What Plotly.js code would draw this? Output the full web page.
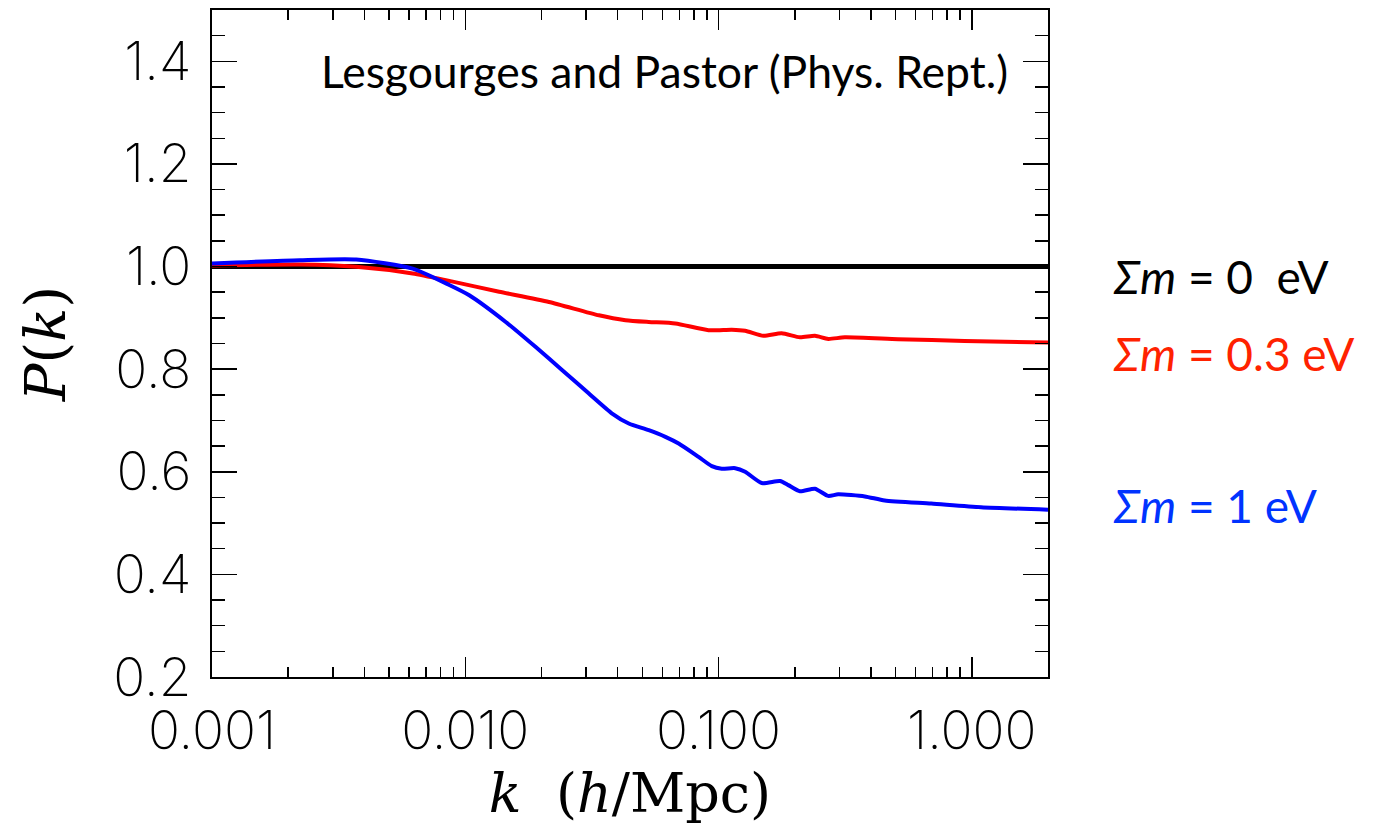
<!DOCTYPE html>
<html>
<head>
<meta charset="utf-8">
<script src="https://cdn.plot.ly/plotly-3.0.1.min.js"></script>
<style>html,body{margin:0;padding:0;background:#fff;}#chart{width:1379px;height:825px;}</style>
</head>
<body>
<div id="chart"></div>
<script>
// k values (h/Mpc)
const kMassless = [0.001, 2.0];
const pMassless = [1.0, 1.0];

const kRed = [0.001, 0.00222, 0.00371, 0.0062, 0.00865, 0.01361, 0.02141, 0.0337, 0.04292, 0.05302, 0.0675, 0.0913, 0.1128, 0.1274, 0.1504, 0.1775, 0.2097, 0.2402, 0.2711, 0.3153, 0.5113, 0.9361, 2.0];
const pRed = [1.002, 1.004, 0.9995, 0.9865, 0.972, 0.951, 0.931, 0.905, 0.8955, 0.892, 0.889, 0.876, 0.877, 0.875, 0.865, 0.870, 0.862, 0.865, 0.859, 0.862, 0.8585, 0.855, 0.852];

const kBlue = [0.001, 0.00222, 0.00371, 0.0062, 0.00865, 0.01037, 0.01445, 0.01898, 0.02416, 0.03078, 0.03802, 0.04423, 0.05302, 0.0617, 0.0696, 0.0834, 0.0941, 0.1030, 0.1164, 0.1274, 0.1481, 0.1750, 0.1886, 0.2097, 0.2402, 0.2711, 0.2968, 0.3781, 0.4532, 0.6916, 1.088, 2.0];
const pBlue = [1.006, 1.0125, 1.0138, 0.996, 0.964, 0.944, 0.892, 0.843, 0.798, 0.7525, 0.7135, 0.694, 0.681, 0.668, 0.655, 0.629, 0.611, 0.606, 0.607, 0.600, 0.578, 0.582, 0.574, 0.562, 0.567, 0.553, 0.556, 0.552, 0.544, 0.538, 0.531, 0.526];

const xTickVals = [0.001, 0.01, 0.1, 1];
const xTickText = ['0.001', '0.010', '0.100', '1.000'];
const yTickVals = [0.2, 0.4, 0.6, 0.8, 1.0, 1.2, 1.4];
const yTickText = ['0.2', '0.4', '0.6', '0.8', '1.0', '1.2', '1.4'];
const minorMultipliers = [2, 3, 4, 5, 6, 7, 8, 9];

const titleText = 'Lesgourges and Pastor (Phys. Rept.)';
const labelText = ['<i>Σm</i> = 0  eV', '<i>Σm</i> = 0.3 eV', '<i>Σm</i> = 1 eV'];
const labelY = [0.981, 0.831, 0.535];
const labelColor = ['#000000', '#ff2200', '#0033ff'];

const xMinor = [];
xTickVals.forEach(d => minorMultipliers.forEach(m => { if (m * d < 2) xMinor.push(m * d); }));

const tickFont = {family: 'Inter, Roboto, DejaVu Sans', size: 53, weight: 200, color: '#000'};
const serif = 'DejaVu Serif, Liberation Serif, serif';
const gill = 'Lato, Open Sans, sans-serif';

const traces = [
  {x: kMassless, y: pMassless, mode: 'lines', line: {color: '#000000', width: 5}, hoverinfo: 'skip'},
  {x: kRed, y: pRed, mode: 'lines', line: {color: '#ff0000', width: 4, shape: 'spline', smoothing: 0.6}, hoverinfo: 'skip'},
  {x: kBlue, y: pBlue, mode: 'lines', line: {color: '#0000ff', width: 4, shape: 'spline', smoothing: 0.6}, hoverinfo: 'skip'}
];

const annotations = [
  {xref: 'paper', yref: 'paper', x: 0.541, y: 0.91, xanchor: 'center', yanchor: 'middle',
   text: titleText, showarrow: false, font: {family: gill, size: 44.5, color: '#000'}}
].concat(labelText.map((t, i) => ({
  xref: 'paper', yref: 'y', x: 1.075, y: labelY[i], xanchor: 'left', yanchor: 'middle',
  text: t, showarrow: false, font: {family: gill, size: 46, color: labelColor[i]}
})));

const layout = {
  width: 1379, height: 825,
  margin: {l: 212, r: 331, t: 10, b: 148},
  paper_bgcolor: '#fff', plot_bgcolor: '#fff',
  showlegend: false,
  xaxis: {
    type: 'log', range: [-3, Math.log10(2)],
    tickvals: xTickVals, ticktext: xTickText,
    ticks: 'inside', ticklen: 20, tickwidth: 1.5, tickcolor: '#000',
    minor: {tickvals: xMinor, ticks: 'inside', ticklen: 10, tickwidth: 1.5, tickcolor: '#000', showgrid: false},
    showline: true, linecolor: '#000', linewidth: 2, mirror: 'ticks',
    showgrid: false, zeroline: false,
    tickfont: tickFont, ticklabelstandoff: 6,
    title: {text: '<i>k</i>  (<i>h</i>/Mpc)', font: {family: serif, size: 54, color: '#000'}, standoff: 0}
  },
  yaxis: {
    range: [0.2, 1.5],
    tickvals: yTickVals, ticktext: yTickText,
    ticks: 'inside', ticklen: 25, tickwidth: 1.5, tickcolor: '#000',
    minor: {ticks: 'inside', ticklen: 13, tickwidth: 1.5, tickcolor: '#000', dtick: 0.05, showgrid: false},
    showline: true, linecolor: '#000', linewidth: 2, mirror: 'ticks',
    showgrid: false, zeroline: false,
    tickfont: tickFont, ticklabelstandoff: 8,
    title: {text: '<i>P</i>(<i>k</i>)', font: {family: serif, size: 56, color: '#000'}, standoff: 30}
  },
  annotations: annotations
};

Plotly.newPlot('chart', traces, layout, {staticPlot: true, displayModeBar: false});
</script>
</body>
</html>
